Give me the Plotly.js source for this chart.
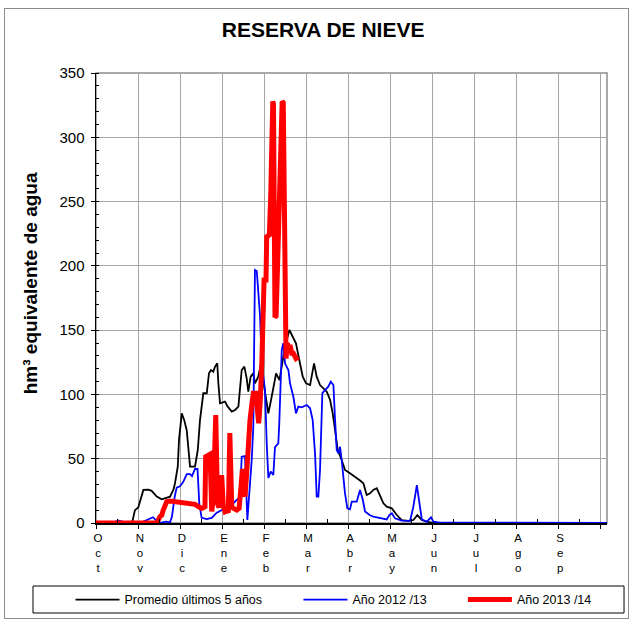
<!DOCTYPE html>
<html>
<head>
<meta charset="utf-8">
<script src="https://cdn.plot.ly/plotly-3.0.1.min.js"></script>
<style>
  html, body { margin: 0; padding: 0; background: #fff; }
  #wrap { position: relative; width: 631px; height: 622px; }
  #chart { width: 631px; height: 622px; }
  #frame { position: absolute; left: 4px; top: 8px; width: 623px; height: 609px; border: 1px solid #8c8c8c; pointer-events: none; }
</style>
</head>
<body>
<div id="wrap"><div id="chart"></div><div id="frame"></div></div>
<script>
// ---- data (x = day of hydrological year starting 1 Oct) ----
const monthLabels = ['O<br>c<br>t','N<br>o<br>v','D<br>i<br>c','E<br>n<br>e','F<br>e<br>b','M<br>a<br>r',
                     'A<br>b<br>r','M<br>a<br>y','J<br>u<br>n','J<br>u<br>l','A<br>g<br>o','S<br>e<br>p',''];

const avgDays = [0,26.1,28.2,30.6,34.3,37.9,40.3,44.0,47.6,50.0,53.6,56.0,57.2,59.2,60.1,62.1,63.9,65.7,67.4,68.1,
  71.7,73.7,75.3,77.7,80.2,81.8,83.3,84.9,86.2,87.8,88.6,89.8,93.4,95.4,98.3,100.7,103.1,104.3,105.5,107.4,
  109.1,110.3,112.0,113.9,115.1,117.5,119.5,121.2,122.4,124.8,127.2,130.4,132.8,134.5,136.9,140.0,142.5,144.8,
  147.2,149.7,152.1,155.0,157.9,159.8,162.2,164.6,167.1,169.5,171.4,173.1,175.0,177.9,180.3,183.9,187.6,191.2,
  193.6,196.0,198.4,200.8,203.3,205.7,208.1,210.5,214.2,217.8,221.4,226.2,229.8,232.7,235.9,239.5,243.1,249.1,370];
const avgVals = [0,0,10,12,25.7,26,25,20.5,18.4,19.2,20.5,25.7,30.9,43.8,64.6,85.3,80,72,52,43.8,
  43.8,56.8,80,100.9,100.9,116.4,119,117.7,121.6,124.2,108.6,93.1,94.4,90.5,86.6,87.9,90.5,105,119,121.6,
  112.5,102.1,113.8,116.4,108.6,113.8,124,110,100.9,85.3,98.2,116.4,111.2,121.6,137.1,150.1,144.9,139.8,
  126.8,113.8,108.6,107.3,124.2,113.8,107.3,104.8,102.1,95.7,85.3,72.3,56.8,49,41.2,38.7,36,33,
  30.9,21.8,23.1,25.7,27,20.5,15.3,12.7,11.4,6.2,2.3,1.6,2.3,6.2,2.3,1,0.3,0,0];

const y1213Days = [0,12.3,15.9,18.8,23.2,31.9,36.2,39.1,41.3,43.5,46.3,50.7,53.6,55.0,56.9,58.4,60.8,63.2,65.7,68.1,
  69.5,71.7,73.5,74.8,76.5,80.2,83.8,87.4,91.0,94.7,98.3,101.9,104.3,105.5,107.9,109.6,111.5,112.8,113.9,115.1,
  116.4,118.8,120.0,122.4,123.6,124.8,126.5,128.4,129.6,132.0,132.7,134.5,135.6,136.9,139.3,140.5,142.9,144.8,
  146.5,149.0,152.6,155.0,156.9,158.6,159.8,161.0,162.2,163.9,165.8,168.2,170.0,171.9,173.1,174.3,175.5,176.7,
  177.9,180.3,182.0,183.9,185.2,188.8,191.2,193.2,194.8,198.4,200.8,208.1,210.5,212.4,214.2,216.5,221.4,227.4,
  229.8,232.3,234.1,235.9,239.5,242.6,244.3,249.1,370];
const y1213Vals = [0,0,2,1,0,0,2,3.5,4.5,2,0,1,0.5,5,20,27.5,28.5,32,38,38,
  36.5,42,42,15,4,3,4,8,10,12,14,18,20,51.6,52,2.3,31,50,75,196.8,
  196,160.5,124,103,62,35,40,37.3,59,62,77.5,134.5,139.8,124,119,108.6,98.2,85.3,
  90.5,90,91.8,89.2,80,54,20.5,20.5,41,101,103.4,106,109.9,107.3,80,56.8,54.2,59.3,
  49,23,11.4,10.6,16.6,16.6,25.7,17.9,9,6,4.9,3.6,2.8,6.2,7.5,3.6,1.8,1.6,
  12.7,29.5,17.9,2.8,1,4.4,1,0.3,0];

const y1314Days = [0,44.0,46.3,47.6,48.7,50.0,51.2,53.6,64.5,71.7,74.1,76.5,78.9,79.4,82.6,83.8,84.9,86.7,88.0,89.1,
  91.0,92.2,93.4,94.7,95.8,96.9,98.3,99.4,101.9,103.6,105.0,106.0,107.0,107.9,109.1,110.3,111.5,112.8,113.9,115.7,
  117.0,117.8,118.8,120.0,121.7,123.1,123.6,125.5,126.5,127.2,128.0,128.5,129.1,129.6,130.4,131.3,132.7,134.0,
  134.8,135.6,136.2,136.9,137.6,138.5,139.3,140.5,141.7,142.9,144.8,146.5];
const y1314Vals = [0,0,5,6,10,13,16.6,17,15.5,14.5,12.7,11.4,12.7,51.6,53.5,9,18,84,15,12,
  37.3,13,9,10,8,70,12.7,11.4,10,11.4,28,42,25,20.5,38.7,70,80,92,100.9,100.9,
  90,77.5,92,122,189,189,222.7,224,254,306,328,326,233,160,161,194,259,311,
  328,327,259,160,128,140,134.5,138.4,132,132,128,129.3];

const seriesNames = ['Promedio últimos 5 años', 'Año 2012 /13', 'Año 2013 /14'];
const yTickVals = [0,50,100,150,200,250,300,350];

const FONT = 'Arial, "Liberation Sans", Helvetica, sans-serif';
const monthTickVals = monthLabels.map((m, i) => i * 365 / 12);

const traces = [
  {x: avgDays, y: avgVals, name: seriesNames[0], type: 'scatter', mode: 'lines',
   line: {color: '#000000', width: 1.8}, cliponaxis: false, legend: 'legend'},
  {x: y1213Days, y: y1213Vals, name: seriesNames[1], type: 'scatter', mode: 'lines',
   line: {color: '#0000ff', width: 1.8}, cliponaxis: false, legend: 'legend2'},
  {x: y1314Days, y: y1314Vals, name: seriesNames[2], type: 'scatter', mode: 'lines',
   line: {color: '#ff0000', width: 5}, cliponaxis: false, legend: 'legend3'}
];

const legendBase = {orientation: 'h', xref: 'container', yref: 'container', yanchor: 'middle', xanchor: 'left',
  bgcolor: 'rgba(0,0,0,0)', borderwidth: 0, font: {family: FONT, size: 12.5, color: '#000'}, itemwidth: 44};

const layout = {
  width: 631, height: 622,
  margin: {l: 96, r: 24, t: 73, b: 99, autoexpand: false},
  paper_bgcolor: '#ffffff', plot_bgcolor: '#ffffff',
  title: {text: '<b>RESERVA DE NIEVE</b>', font: {family: FONT, size: 21, color: '#000'},
          xref: 'container', x: 0.512, xanchor: 'center', yref: 'container', y: 0.952, yanchor: 'middle'},
  showlegend: true,
  legend: Object.assign({}, legendBase, {x: 0.1117, y: 0.0354}),
  legend2: Object.assign({}, legendBase, {x: 0.4729, y: 0.0354}),
  legend3: Object.assign({}, legendBase, {x: 0.7336, y: 0.0354}),
  xaxis: {
    range: [0, 370], tickmode: 'array', tickvals: monthTickVals, ticktext: monthLabels,
    showgrid: true, gridcolor: '#a6a6a6', gridwidth: 1,
    showline: true, linecolor: '#000', linewidth: 1.5,
    ticks: 'outside', ticklen: 4, tickcolor: '#000', tickangle: 0, ticklabelshift: 2,
    tickfont: {family: FONT, size: 11.5, color: '#000'},
    minor: {tickvals: monthTickVals.slice(0, 12).map(v => v + 365 / 24), ticks: 'inside', ticklen: 4, tickcolor: '#000', showgrid: false},
    zeroline: false, fixedrange: true
  },
  yaxis: {
    range: [0, 350], tickmode: 'array', tickvals: yTickVals,
    showgrid: true, gridcolor: '#a6a6a6', gridwidth: 1,
    showline: true, linecolor: '#000', linewidth: 1.5,
    ticks: 'outside', ticklen: 4, tickcolor: '#000', ticklabelstandoff: 3,
    tickfont: {family: FONT, size: 15, color: '#000'},
    minor: {dtick: 10, ticks: 'inside', ticklen: 3, tickcolor: '#000', showgrid: false},
    zeroline: false, fixedrange: true
  },
  shapes: [
    {type: 'rect', xref: 'paper', yref: 'paper', x0: 0, x1: 1, y0: 0, y1: 1,
     line: {color: '#8c8c8c', width: 1.5}, fillcolor: 'rgba(0,0,0,0)', layer: 'below'},
    {type: 'rect', xref: 'paper', yref: 'paper', x0: -0.1233, x1: 1.0333, y0: -0.2, y1: -0.14,
     line: {color: '#000', width: 1}, fillcolor: 'rgba(0,0,0,0)', layer: 'above'}
  ],
  annotations: [
    {text: '<b>hm³ equivalente de agua</b>', textangle: -90, xref: 'paper', yref: 'paper',
     x: -0.129, y: 0.533, xanchor: 'center', yanchor: 'middle', showarrow: false,
     font: {family: FONT, size: 19, color: '#000'}}
  ]
};

Plotly.newPlot('chart', traces, layout, {staticPlot: true, displayModeBar: false});
</script>
</body>
</html>
